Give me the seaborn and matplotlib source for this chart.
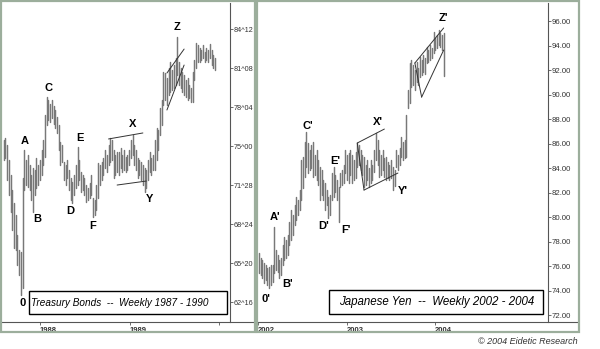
import matplotlib
matplotlib.use("Agg")
import numpy as np
import pandas as pd
import matplotlib.pyplot as plt
import matplotlib.dates as mdates
from matplotlib.patches import Rectangle
from matplotlib.lines import Line2D
import seaborn as sns

# ---------------- data: Treasury Bonds weekly (1987-1990) ----------------
tb_start = "1987-08-07"
tb_high = [75.49, 75.65, 75.09, 73.89, 72.68, 71.48, 70.44, 69.48, 67.88, 66.67,
           66.51, 72.44, 74.69, 73.89, 74.29, 73.48, 72.68, 73.24, 73.08, 74.05,
           73.48, 73.89, 74.69, 75.49, 77.49, 78.93, 78.69, 78.37, 78.69, 78.21,
           77.89, 77.33, 76.69, 75.33, 75.09, 73.72, 73.48, 73.89, 73.08, 72.44,
           72.12, 72.68, 73.48, 74.93, 73.89, 72.92, 72.68, 72.44, 71.88, 71.64,
           72.04, 72.68, 70.84, 70.68, 71.88, 73.64, 73.48, 73.72, 74.05, 74.69,
           74.29, 75.09, 75.65, 75.49, 74.69, 74.29, 74.53, 74.53, 74.85, 74.29,
           74.69, 74.13, 74.29, 74.69, 75.49, 75.89, 75.09, 74.69, 74.05, 73.89,
           73.72, 73.48, 73.24, 73.08, 73.89, 74.53, 74.05, 74.29, 75.49, 76.45,
           76.29, 78.05, 78.69, 80.93, 80.85, 80.45, 81.25, 81.73, 81.09, 81.49,
           82.05, 83.74, 81.73, 81.25, 80.93, 80.69, 80.29, 80.45, 79.89, 79.65,
           80.93, 81.89, 83.25, 83.09, 82.85, 82.69, 83.09, 82.53, 82.85, 82.69,
           83.17, 82.69, 82.29, 82.05]
tb_low = [73.89, 74.05, 72.28, 71.08, 69.72, 68.28, 66.83, 66.67, 65.47, 64.67,
          63.07, 63.63, 71.48, 71.88, 71.72, 71.48, 70.68, 69.72, 71.08, 71.64,
          71.88, 72.28, 72.68, 73.48, 74.13, 76.69, 77.09, 76.93, 77.25, 76.77,
          76.45, 76.05, 74.69, 73.48, 73.72, 72.28, 71.88, 72.44, 71.48, 70.68,
          70.44, 71.08, 71.64, 71.88, 72.28, 71.32, 71.48, 71.08, 70.52, 70.68,
          70.84, 71.08, 69.32, 69.48, 69.88, 70.84, 71.88, 72.28, 72.68, 73.24,
          72.92, 73.48, 73.72, 73.89, 72.44, 72.68, 72.92, 72.68, 73.24, 72.92,
          73.08, 72.92, 73.08, 73.48, 74.05, 74.29, 73.48, 73.08, 72.44, 72.68,
          72.28, 71.88, 71.32, 71.64, 72.28, 72.92, 72.68, 73.08, 73.08, 73.89,
          74.69, 75.89, 76.69, 78.29, 78.69, 78.29, 79.09, 79.33, 79.49, 79.65,
          79.89, 80.69, 79.89, 79.65, 79.33, 79.09, 78.93, 78.69, 78.85, 78.53,
          78.53, 80.29, 81.25, 81.73, 81.73, 81.89, 82.05, 81.73, 81.89, 81.73,
          82.05, 81.49, 81.25, 81.09]
tb_yticks = [62.5, 65.625, 68.75, 71.875, 75.0, 78.125, 81.25, 84.375]
tb_yticklabels = ["62^16", "65^20", "68^24", "71^28", "75^00", "78^04", "81^08", "84^12"]
tb_xticks = ["1988-01-01", "1989-01-01", "1990-01-01"]
tb_xticklabels = ["1988", "1989", ""]
tb_label_text = ["0", "A", "B", "C", "D", "E", "F", "X", "Y", "Z"]
tb_label_bar = [10, 12, 17, 25, 40, 43, 52, 75, 82, 101]
tb_label_side = ["low", "high", "low", "high", "low", "high", "low", "high", "low", "high"]
# trend / channel lines: (bar index, price) end points
tb_lines = [[(61, 75.57), (81, 76.05)],
            [(66, 71.88), (83, 72.20)],
            [(95, 80.85), (105, 82.77)],
            [(95, 77.89), (105, 81.49)]]
tb_title = "Treasury Bonds  --  Weekly 1987 - 1990"

# ---------------- data: Japanese Yen weekly (2002-2004) ----------------
jy_start = "2002-01-04"
jy_high = [77.06, 76.65, 76.49, 76.24, 76.08, 75.84, 75.92, 76.08, 76.08, 79.18,
           77.31, 76.90, 76.49, 76.65, 77.71, 78.37, 78.12, 78.53, 79.59, 80.57,
           80.16, 80.98, 81.63, 81.39, 82.20, 84.65, 84.90, 86.12, 86.94, 86.04,
           85.47, 85.87, 86.12, 85.06, 85.47, 84.65, 84.08, 83.83, 83.02, 82.77,
           82.20, 81.63, 81.79, 83.59, 84.08, 83.43, 83.02, 82.45, 83.59, 83.83,
           84.24, 85.47, 85.06, 85.22, 85.47, 85.06, 84.65, 85.30, 86.04, 85.87,
           85.47, 85.06, 84.90, 84.24, 84.65, 84.00, 84.65, 84.24, 85.47, 86.85,
           86.28, 85.47, 85.06, 85.47, 84.81, 84.90, 84.49, 84.24, 84.65, 84.08,
           83.83, 85.47, 85.06, 85.63, 86.53, 86.12, 86.28, 88.32, 90.36, 92.57,
           92.81, 92.41, 92.00, 92.65, 92.16, 93.06, 92.81, 93.22, 92.98, 93.88,
           93.63, 94.04, 93.79, 95.10, 94.61, 94.86, 95.26, 95.02, 94.86, 95.02]
jy_low = [75.43, 75.27, 75.02, 74.61, 74.86, 74.45, 74.20, 74.45, 74.69, 75.43,
          75.67, 75.51, 75.02, 75.27, 76.08, 76.49, 76.65, 76.90, 77.71, 78.12,
          78.53, 79.34, 79.75, 80.16, 80.57, 81.39, 82.37, 83.26, 84.08, 83.59,
          83.83, 84.00, 83.26, 83.43, 83.02, 82.61, 81.39, 81.79, 81.39, 80.57,
          80.98, 79.92, 80.16, 81.39, 81.63, 82.04, 81.39, 79.59, 82.45, 82.61,
          82.77, 83.59, 83.02, 82.77, 83.43, 82.77, 83.02, 83.18, 84.08, 84.24,
          83.83, 83.43, 82.45, 82.61, 83.02, 82.45, 82.77, 83.02, 83.67, 84.65,
          84.24, 83.26, 83.43, 83.83, 83.26, 83.02, 83.18, 83.02, 83.18, 82.20,
          82.53, 84.08, 83.83, 84.24, 84.90, 84.65, 84.81, 84.90, 88.90, 89.30,
          90.61, 90.77, 90.36, 91.02, 90.77, 91.43, 91.59, 91.83, 91.67, 92.57,
          92.65, 92.81, 92.98, 93.39, 93.63, 93.79, 94.04, 93.88, 93.63, 91.51]
jy_yticks = [72, 74, 76, 78, 80, 82, 84, 86, 88, 90, 92, 94, 96]
jy_yticklabels = ["72.00", "74.00", "76.00", "78.00", "80.00", "82.00", "84.00",
                  "86.00", "88.00", "90.00", "92.00", "94.00", "96.00"]
jy_xticks = ["2002-01-01", "2003-01-01", "2004-01-01"]
jy_xticklabels = ["2002", "2003", "2004"]
jy_label_text = ["0'", "A'", "B'", "C'", "D'", "E'", "F'", "X'", "Y'", "Z'"]
jy_label_bar = [6, 9, 12, 28, 41, 44, 47, 69, 80, 106]
jy_label_side = ["low", "high", "low", "high", "low", "high", "low", "high", "low", "high"]
jy_lines = [[(58, 86.04), (74, 87.18)],
            [(62, 82.20), (82, 83.59)],
            [(58, 86.04), (62, 82.20)],
            [(92, 92.57), (109, 95.43)],
            [(96, 89.79), (109, 93.63)],
            [(92, 92.57), (96, 89.79)]]
jy_title = "Japanese Yen  --  Weekly 2002 - 2004"
copyright_text = "\u00a9 2004 Eidetic Research"

# ---------------- styling ----------------
sns.set_theme(style="white")
plt.rcParams["font.family"] = ["Liberation Sans", "DejaVu Sans"]

W, H = 600, 349
fig = plt.figure(figsize=(W / 100, H / 100), dpi=100)
fig.patch.set_facecolor("white")

BAR_COLOR = "#787878"
FRAME_COLOR = "#9cae9c"
AXIS_COLOR = "#555555"
TICK_TEXT = "#333333"


def fig_rect(x0, y0, x1, y1):
    return [x0 / W, 1 - y1 / H, (x1 - x0) / W, (y1 - y0) / H]


def fit_text(t, target_px):
    fig.canvas.draw()
    bb = t.get_window_extent()
    t.set_fontsize(t.get_fontsize() * target_px / bb.width)


def panel(frame_px, axes_px, start, highs, lows, xlim, ylim, yticks, yticklabels,
          ytick_fs, xticks, xticklabels, ltext, lbar, lside, loffs, lines, box_px,
          title, title_px):
    x0, y0, x1, y1 = frame_px
    base_y = axes_px[3]
    fig.add_artist(Line2D([x0 / W, x1 / W], [1 - base_y / H, 1 - base_y / H],
                          transform=fig.transFigure, color=AXIS_COLOR, lw=0.8))
    ax = fig.add_axes(fig_rect(*axes_px))
    ax.patch.set_alpha(0)
    dates = pd.date_range(start, periods=len(highs), freq="7D")
    n = len(highs)
    df = pd.DataFrame({
        "date": np.concatenate([dates, dates]),
        "price": np.concatenate([highs, lows]),
        "bar": np.concatenate([np.arange(n), np.arange(n)]),
    })
    sns.lineplot(data=df, x="date", y="price", units="bar", estimator=None,
                 color=BAR_COLOR, lw=1.05, ax=ax, legend=False)
    # channel lines
    for seg in lines:
        xs = [mdates.date2num(dates[i]) for i, _ in seg]
        ys = [p for _, p in seg]
        ax.plot(xs, ys, color="#333333", lw=0.7)
    # labels
    for txt, b, side, (dx, dy) in zip(ltext, lbar, lside, loffs):
        xv = mdates.date2num(dates[b])
        if side == "high":
            ax.annotate(txt, xy=(xv, highs[b]), xytext=(dx, dy),
                        textcoords="offset pixels", ha="center", va="bottom",
                        fontsize=8, fontweight="bold", color="black")
        else:
            ax.annotate(txt, xy=(xv, lows[b]), xytext=(dx, -dy),
                        textcoords="offset pixels", ha="center", va="top",
                        fontsize=8, fontweight="bold", color="black")
    ax.set_xlim(mdates.date2num(pd.Timestamp(xlim[0])), mdates.date2num(pd.Timestamp(xlim[1])))
    ax.set_ylim(*ylim)
    ax.yaxis.tick_right()
    ax.set_yticks(yticks)
    ax.set_yticklabels(yticklabels, fontsize=ytick_fs, color=TICK_TEXT)
    ax.set_xticks([mdates.date2num(pd.Timestamp(d)) for d in xticks])
    ax.set_xticklabels(xticklabels, fontsize=5.5, color=TICK_TEXT, ha="left",
                       fontweight="bold")
    ax.tick_params(axis="y", length=2.2, width=0.6, pad=0.6, color=AXIS_COLOR,
                   right=True, left=False)
    ax.tick_params(axis="x", length=2.5, width=0.6, pad=1.0, color=AXIS_COLOR, bottom=True)
    ax.set_xlabel("")
    ax.set_ylabel("")
    ax.grid(False)
    for s in ["top", "left", "bottom"]:
        ax.spines[s].set_visible(False)
    ax.spines["right"].set_color(AXIS_COLOR)
    ax.spines["right"].set_linewidth(0.8)
    # title box
    bx0, by0, bx1, by1 = box_px
    fig.add_artist(Rectangle((bx0 / W, 1 - by1 / H), (bx1 - bx0) / W, (by1 - by0) / H,
                             transform=fig.transFigure, fill=True, facecolor="white",
                             edgecolor="black", lw=1.0, zorder=6))
    tx0, tx1, ty = title_px
    t = fig.text(tx0 / W, 1 - ty / H, title, ha="left", va="center",
                 style="italic", fontsize=8, color="black", zorder=7)
    fit_text(t, tx1 - tx0)
    # panel frame
    fig.add_artist(Rectangle((x0 / W, 1 - y1 / H), (x1 - x0) / W, (y1 - y0) / H,
                             transform=fig.transFigure, fill=False,
                             edgecolor=FRAME_COLOR, lw=1.6, zorder=8))
    return ax


tb_offs = [(2, 3), (0, 4), (4, 2), (2, 4), (-2, 3), (2, 4), (0, 4), (0, 6), (5, 2), (0, 5)]
jy_offs = [(-3, 6), (1, 5), (8, 1), (1, 1), (-5, 3), (2, 1), (7, 3), (2, 6), (8, 0), (5, 7)]

panel((1, 1, 255, 332), (3, 3, 230, 322), tb_start, tb_high, tb_low,
      ("1987-08-04", "1990-02-14"), (60.91, 86.46), tb_yticks, tb_yticklabels, 5.2,
      tb_xticks, tb_xticklabels, tb_label_text, tb_label_bar, tb_label_side, tb_offs,
      tb_lines, (29, 291, 227, 314), tb_title, (31, 210, 302.5))

panel((257, 1, 579, 332), (258, 3, 548, 322), jy_start, jy_high, jy_low,
      ("2001-12-31", "2005-04-12"), (71.43, 97.47), jy_yticks, jy_yticklabels, 5.6,
      jy_xticks, jy_xticklabels, jy_label_text, jy_label_bar, jy_label_side, jy_offs,
      jy_lines, (329, 290, 543, 314), jy_title, (339, 537, 302.5))

ct = fig.text(578 / W, 1 - 342 / H, copyright_text, ha="right", va="center",
              style="italic", fontsize=7, color="#333333")
fit_text(ct, 100)

fig.savefig("out.png", dpi=100, facecolor="white")
